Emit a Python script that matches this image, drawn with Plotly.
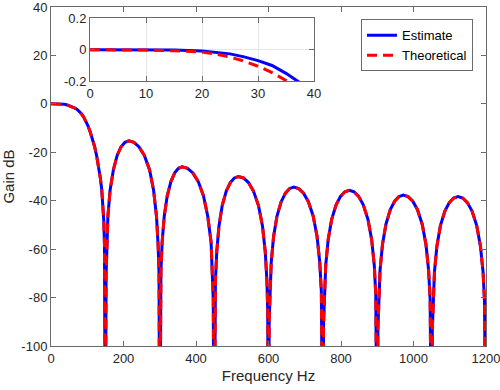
import plotly.graph_objects as go

# ---------------- data ----------------
# main lobe (0-150 Hz)
main_freq = [0, 10, 20, 30, 37, 45, 52, 60, 66, 72, 78, 84, 90, 96, 102, 108, 114, 120, 126, 131, 136, 140, 143, 145.5, 147.5, 148.8]
main_est = [0, 0, 0, -0.07, -0.2, -0.45, -0.8, -1.3, -1.75, -2.3, -3.1, -4.1, -5.4, -7.1, -9.1, -11.5, -14.2, -17.5, -21.5, -25.5, -30.5, -35.4, -41, -48, -58, -72]
main_theo = [0, 0, -0.01, -0.1, -0.25, -0.5, -0.85, -1.35, -1.8, -2.35, -3.15, -4.15, -5.45, -7.1, -9.1, -11.5, -14.2, -17.5, -21.5, -25.5, -30.5, -35.4, -41, -48, -58, -72]

# side lobes (150-1200 Hz), shared by both curves
side_freq = [
    150, 152, 153.5, 157, 163, 172, 182.5, 193, 204, 215, 229, 243, 257.5, 272, 283, 291, 295.5, 298,
    300, 301.7, 303.3, 306.6, 312.4, 320.7, 331, 341.3, 351.6, 362, 376.7, 391.3, 406, 420.7, 432.4, 441.6, 445.3, 447.6,
    450, 451.8, 453.6, 457.2, 463.4, 472.3, 483.5, 494.7, 505.8, 517, 530.9, 544.7, 558.5, 572.4, 583.4, 591.1, 595.6, 597.8,
    600, 601.9, 603.7, 607.5, 614, 623.3, 635, 646.7, 658.3, 670, 683.4, 696.6, 710, 723.4, 734, 741.4, 745.8, 747.9,
    750, 751.9, 753.9, 757.8, 764.6, 774.3, 786.5, 798.7, 810.8, 823, 835.9, 848.6, 861.5, 874.4, 884.6, 891.9, 895.9, 897.9,
    900, 901.9, 903.8, 907.7, 914.4, 924, 936, 948, 960, 972, 985, 998, 1011, 1024, 1034.4, 1041.7, 1045.9, 1047.9,
    1050, 1051.9, 1053.9, 1057.8, 1064.6, 1074.3, 1086.5, 1098.7, 1110.8, 1123, 1135.9, 1148.6, 1161.5, 1174.4, 1184.6, 1191.9, 1195.9, 1197.9,
    1200,
]
side_gain = [
    -160, -70.4, -58.4, -46.4, -35.7, -27.3, -21.3, -17.8, -15.9, -15.3, -15.9, -17.8, -21.3, -27.3, -35.7, -46.4, -58.4, -70.4,
    -160, -81.1, -69.1, -57.1, -46.4, -38.0, -32.0, -28.5, -26.6, -26.0, -26.6, -28.5, -32.0, -38.0, -46.4, -57.1, -69.1, -81.1,
    -160, -85.1, -73.1, -61.1, -50.4, -42.0, -36.0, -32.5, -30.6, -30.0, -30.6, -32.5, -36.0, -42.0, -50.4, -61.1, -73.1, -85.1,
    -160, -89.5, -77.5, -65.5, -54.8, -46.4, -40.4, -36.9, -35.0, -34.4, -35.0, -36.9, -40.4, -46.4, -54.8, -65.5, -77.5, -89.5,
    -160, -90.8, -78.8, -66.8, -56.1, -47.7, -41.7, -38.2, -36.3, -35.7, -36.3, -38.2, -41.7, -47.7, -56.1, -66.8, -78.8, -90.8,
    -160, -92.8, -80.8, -68.8, -58.1, -49.7, -43.7, -40.2, -38.3, -37.7, -38.3, -40.2, -43.7, -49.7, -58.1, -68.8, -80.8, -92.8,
    -160, -93.4, -81.4, -69.4, -58.7, -50.3, -44.3, -40.8, -38.9, -38.3, -38.9, -40.8, -44.3, -50.3, -58.7, -69.4, -81.4, -93.4,
    -160,
]

# inset (pass-band detail)
inset_freq = [0, 5, 10, 15, 20, 22.5, 25, 27.5, 30, 32.5, 35, 37.5, 40]
inset_est = [0, 0, 0, -0.002, -0.008, -0.015, -0.026, -0.045, -0.069, -0.1, -0.15, -0.21, -0.29]
inset_theo = [0, 0, -0.002, -0.006, -0.015, -0.028, -0.047, -0.072, -0.105, -0.145, -0.195, -0.26, -0.33]

x_ticks = [0, 200, 400, 600, 800, 1000, 1200]
x_tick_labels = ["0", "200", "400", "600", "800", "1000", "1200"]
y_ticks = [-100, -80, -60, -40, -20, 0, 20, 40]
y_tick_labels = ["-100", "-80", "-60", "-40", "-20", "0", "20", "40"]
inset_x_ticks = [0, 10, 20, 30, 40]
inset_x_labels = ["0", "10", "20", "30", "40"]
inset_y_ticks = [-0.2, 0, 0.2]
inset_y_labels = ["-0.2", "0", "0.2"]

series_names = ["Estimate", "Theoretical"]

# ---------------- figure ----------------
freq_all = main_freq + side_freq
est_all = main_est + side_gain
theo_all = main_theo + side_gain

BLUE = "#0000ff"
RED = "#ff0000"
AX = "#6a6a6a"
TXT = "#262626"
FONT = "Liberation Sans, Arial, sans-serif"

fig = go.Figure()
fig.add_trace(go.Scatter(x=freq_all, y=est_all, mode="lines", name=series_names[0],
                         line=dict(color=BLUE, width=3), xaxis="x", yaxis="y"))
fig.add_trace(go.Scatter(x=freq_all, y=theo_all, mode="lines", name=series_names[1],
                         line=dict(color=RED, width=3, dash="10px,6px"), xaxis="x", yaxis="y"))
fig.add_trace(go.Scatter(x=inset_freq, y=inset_est, mode="lines", showlegend=False,
                         line=dict(color=BLUE, width=3), xaxis="x2", yaxis="y2"))
fig.add_trace(go.Scatter(x=inset_freq, y=inset_theo, mode="lines", showlegend=False,
                         line=dict(color=RED, width=3, dash="10px,6px"), xaxis="x2", yaxis="y2"))

axis_common = dict(showline=True, linecolor=AX, linewidth=1, mirror="ticks", ticks="inside",
                   ticklen=5, tickcolor=AX, zeroline=False, showgrid=False, automargin=False,
                   ticklabeloverflow="allow",
                   tickfont=dict(family=FONT, size=13, color=TXT))

fig.update_layout(
    width=500, height=390,
    margin=dict(l=51, r=14, t=7, b=44),
    paper_bgcolor="white", plot_bgcolor="white",
    font=dict(family=FONT, size=13, color=TXT),
    xaxis=dict(range=[0, 1200], tickvals=x_ticks, ticktext=x_tick_labels, domain=[0, 1],
               title=dict(text="Frequency Hz", font=dict(family=FONT, size=15, color=TXT), standoff=5),
               **axis_common),
    yaxis=dict(range=[-100, 40], tickvals=y_ticks, ticktext=y_tick_labels, domain=[0, 1],
               title=dict(text="Gain dB", font=dict(family=FONT, size=15, color=TXT), standoff=5),
               **axis_common),
    xaxis2=dict(range=[0, 40], tickvals=inset_x_ticks, ticktext=inset_x_labels,
                domain=[0.0897, 0.6046], anchor="y2",
                **{**axis_common, "showgrid": True}, gridcolor="#e6e6e6", gridwidth=1),
    yaxis2=dict(range=[-0.2, 0.2], tickvals=inset_y_ticks, ticktext=inset_y_labels,
                domain=[0.7812, 0.9664], anchor="x2",
                **{**axis_common, "showgrid": True}, gridcolor="#e6e6e6", gridwidth=1),
    legend=dict(x=0.7126, y=0.9635, xanchor="left", yanchor="top",
                bgcolor="white", bordercolor=AX, borderwidth=1,
                font=dict(family=FONT, size=13, color="#000000"),
                tracegroupgap=0, itemwidth=30),
    showlegend=True,
)

fig.write_html("out.html", config={"displayModeBar": False},
               post_script="document.body.style.margin='0';document.body.style.padding='0';")
